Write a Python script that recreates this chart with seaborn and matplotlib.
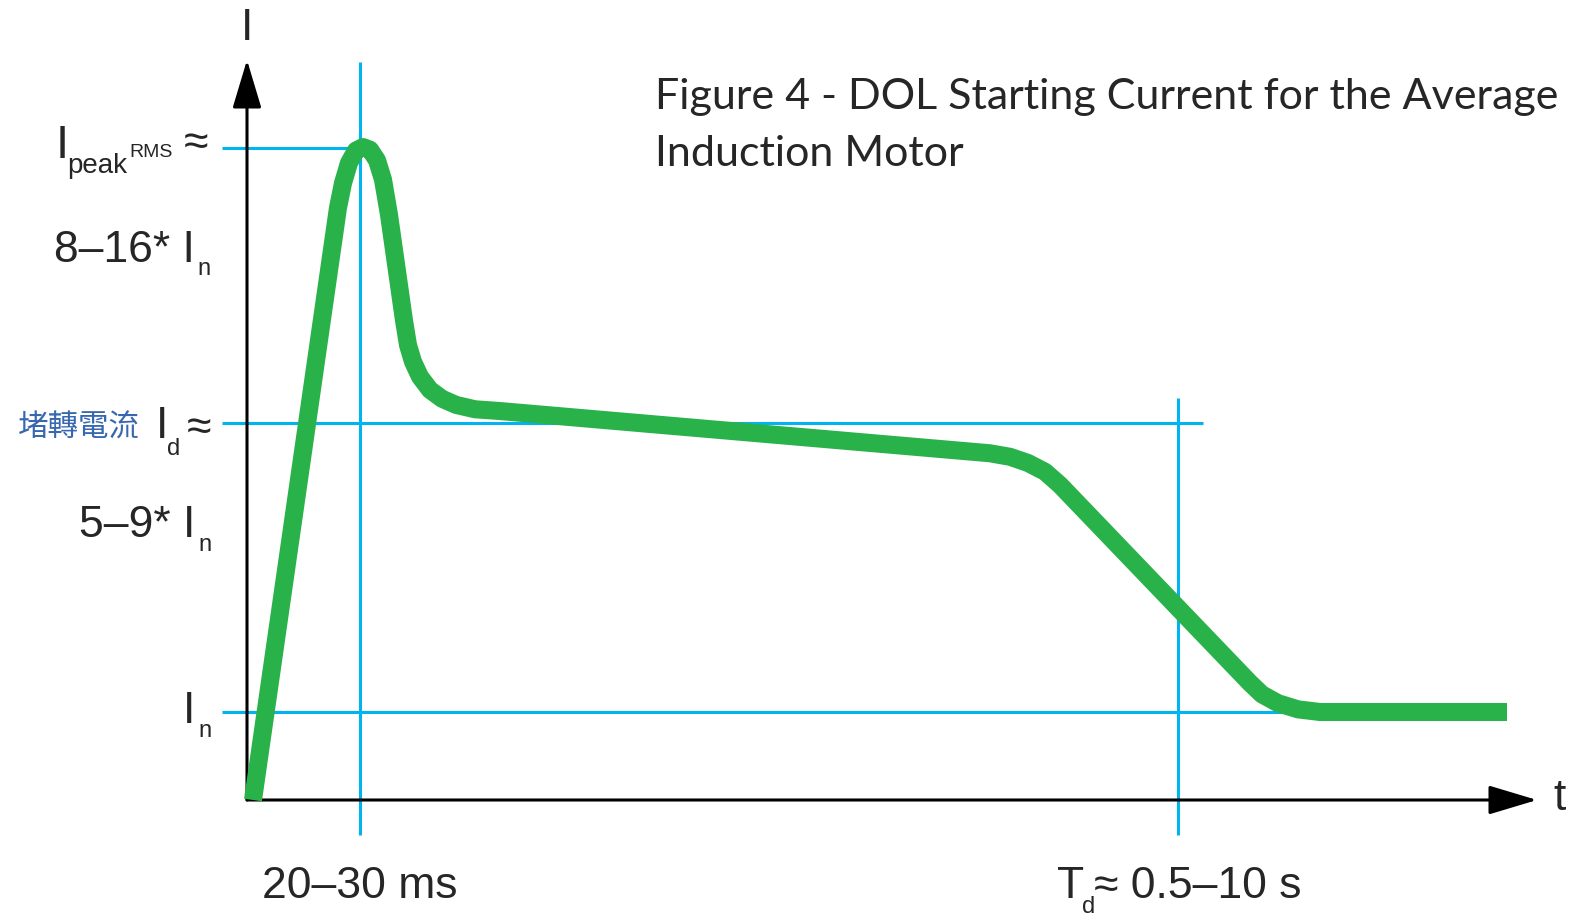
import seaborn as sns
import matplotlib.pyplot as plt
import pandas as pd

# current curve, x in arbitrary time units, y in multiples of I_n
t_vals = [0.6, 9.1, 9.6, 10.2, 10.9, 11.6, 12.3, 13.0, 13.6, 14.2, 15.7, 16.1,
          16.6, 17.3, 18.3, 19.5, 20.9, 22.8, 25.3, 74.3, 76.3, 78.1, 79.8,
          81.3, 100.3, 101.5, 103.1, 105.1, 107.3, 109.3, 126.0]
i_vals = [0.0, 6.73, 7.01, 7.24, 7.38, 7.42, 7.39, 7.27, 7.05, 6.65, 5.45, 5.17,
          4.98, 4.81, 4.66, 4.56, 4.49, 4.44, 4.42, 3.94, 3.90, 3.83, 3.73,
          3.58, 1.33, 1.20, 1.10, 1.03, 1.0, 1.0, 1.0]

# reference levels (peak, locked rotor, nominal) and times
level_vals = [7.41, 4.28, 1.0]
level_ends = [11.3, 95.6, 106.0]
time_marks = [11.3, 93.1]
time_tops = [8.39, 4.57]

title_lines = ["Figure 4 - DOL Starting Current for the Average", "Induction Motor"]

GREEN = "#29b24a"
BLUE = "#00b4f0"
LABEL_BLUE = "#3767b0"

sns.set_theme(style="white")
plt.rcParams["font.family"] = ["Liberation Sans", "Noto Sans CJK TC", "DejaVu Sans"]


def X(px):
    return (px - 247) / 10


def Y(py):
    return (800 - py) / 88


fig = plt.figure(figsize=(15.75, 9.18), dpi=100)
ax = fig.add_axes([0, 0, 1, 1])

# blue guide lines
ax.hlines(level_vals, X(222), level_ends, colors=BLUE, lw=2.2, zorder=1)
ax.vlines(time_marks, Y(835), time_tops, colors=BLUE, lw=2.2, zorder=1)

# axes with arrow heads
arrow = dict(arrowstyle="-|>,head_length=1.5,head_width=0.45", mutation_scale=20,
             lw=2.2, color="black", shrinkA=0, shrinkB=0)
ax.annotate("", xy=(0, Y(60)), xytext=(0, 0), arrowprops=arrow, zorder=2)
ax.annotate("", xy=(X(1537), 0), xytext=(0, 0), arrowprops=arrow, zorder=2)

# starting current curve
df = pd.DataFrame({"t": t_vals, "I": i_vals})
sns.lineplot(data=df, x="t", y="I", ax=ax, color=GREEN, linewidth=13,
             estimator=None, sort=False, solid_capstyle="butt",
             solid_joinstyle="round", zorder=3)
ax.set_xlim(X(0), X(1575))
ax.set_ylim(Y(918), Y(0))
ax.axis("off")

fs = 32
sub = 17
# axis names
ax.text(X(247), Y(40), "I", ha="center", va="baseline", fontsize=fs)
ax.text(X(1553), Y(810), "t", ha="left", va="baseline", fontsize=fs)

# y labels
ax.text(X(56), Y(158), "I", ha="left", va="baseline", fontsize=34)
ax.text(X(67), Y(173), "peak", ha="left", va="baseline", fontsize=20)
ax.text(X(129), Y(157), "RMS", ha="left", va="baseline", fontsize=14)
ax.text(X(184), Y(155), "≈", ha="left", va="baseline", fontsize=fs)

ax.text(X(195), Y(262), "8–16* I", ha="right", va="baseline", fontsize=fs)
ax.text(X(197), Y(275), "n", ha="left", va="baseline", fontsize=sub)

ax.text(X(18), Y(437), "堵轉電流", ha="left", va="baseline", fontsize=22,
        color=LABEL_BLUE, family=["Noto Sans CJK TC", "DejaVu Sans"])
ax.text(X(156), Y(438), "I", ha="left", va="baseline", fontsize=fs)
ax.text(X(167), Y(455), "d", ha="left", va="baseline", fontsize=sub)
ax.text(X(187), Y(440), "≈", ha="left", va="baseline", fontsize=fs)

ax.text(X(195), Y(537), "5–9* I", ha="right", va="baseline", fontsize=fs)
ax.text(X(198), Y(551), "n", ha="left", va="baseline", fontsize=sub)

ax.text(X(195), Y(723), "I", ha="right", va="baseline", fontsize=fs)
ax.text(X(198), Y(737), "n", ha="left", va="baseline", fontsize=sub)

# x labels
ax.text(X(262), Y(898), "20–30 ms", ha="left", va="baseline", fontsize=fs)
ax.text(X(1057), Y(898), "T", ha="left", va="baseline", fontsize=fs)
ax.text(X(1082), Y(913), "d", ha="left", va="baseline", fontsize=sub)
ax.text(X(1094), Y(898), "≈ 0.5–10 s", ha="left", va="baseline", fontsize=fs)

# title
ax.text(X(655), Y(109), title_lines[0], ha="left", va="baseline", fontsize=31,
        family=["Lato", "DejaVu Sans"])
ax.text(X(655), Y(166), title_lines[1], ha="left", va="baseline", fontsize=31,
        family=["Lato", "DejaVu Sans"])

fig.savefig("out.png", dpi=100, facecolor="white")
